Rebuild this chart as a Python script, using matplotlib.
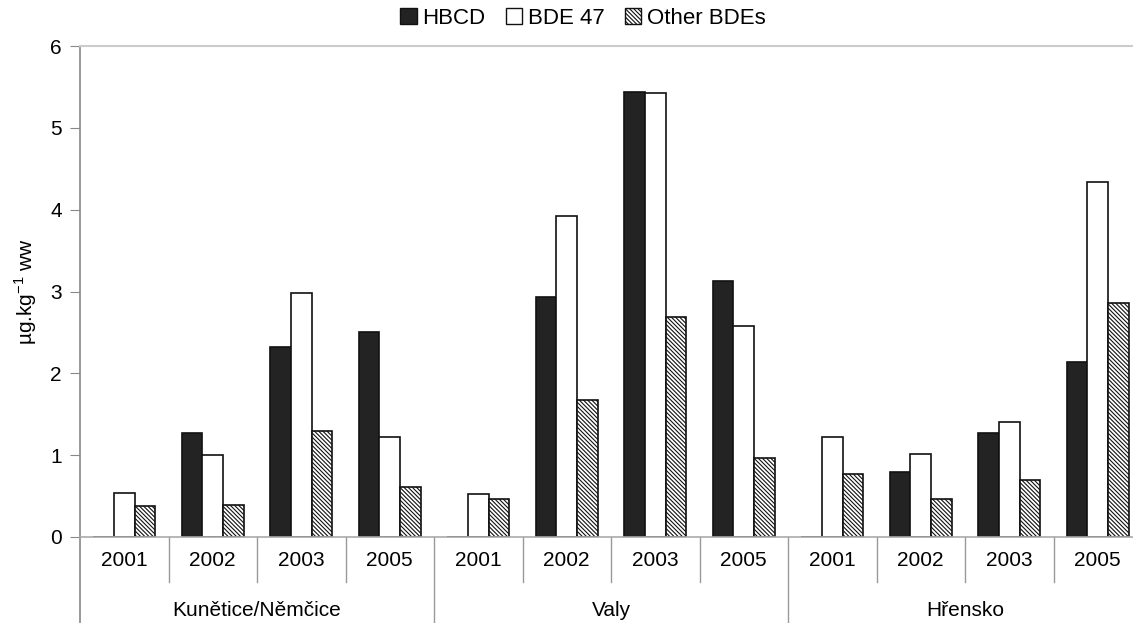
import numpy as np
import matplotlib.pyplot as plt
from matplotlib.patches import Patch

plt.rcParams['font.family'] = ['Liberation Sans', 'DejaVu Sans']
plt.rcParams['hatch.linewidth'] = 0.8

# sites and sampling years
sites = ["Kunětice/Němčice", "Valy", "Hřensko"]
years = ["2001", "2002", "2003", "2005"]

# concentrations, ug/kg wet weight, one value per site/year
hbcd = [0, 1.27, 2.32, 2.50,
        0, 2.93, 5.44, 3.13,
        0, 0.80, 1.27, 2.14]
bde47 = [0.54, 1.00, 2.98, 1.22,
         0.53, 3.92, 5.42, 2.58,
         1.22, 1.01, 1.40, 4.34]
other_bdes = [0.38, 0.39, 1.30, 0.61,
              0.46, 1.67, 2.69, 0.97,
              0.77, 0.46, 0.70, 2.86]

HATCH = '\\' * 8

W, H = 1133, 623
fig = plt.figure(figsize=(W / 100, H / 100), dpi=100)
ax = fig.add_axes([80 / W, 86 / H, 1062 / W, 491 / H])

x = np.arange(len(hbcd))
bw = 0.232
ax.bar(x - bw, hbcd, bw, color='#232323', edgecolor='#111111', linewidth=1.2)
ax.bar(x, bde47, bw, color='white', edgecolor='#111111', linewidth=1.2)
ax.bar(x + bw, other_bdes, bw, color='white', edgecolor='#111111',
       linewidth=1.2, hatch=HATCH)

ax.set_xlim(-0.5, len(hbcd) - 0.5)
ax.set_ylim(0, 6)
ax.set_yticks(range(7))
ax.tick_params(axis='y', labelsize=15, length=7, color='#888888', pad=6)
ax.set_xticks([])
ax.set_ylabel(r'µg.kg$^{\mathregular{-1}}$ ww', fontsize=15, labelpad=8)

ax.spines['right'].set_visible(False)
ax.spines['top'].set_color('#cccccc')
ax.spines['top'].set_linewidth(1.5)
ax.spines['bottom'].set_color('#aaaaaa')
ax.spines['bottom'].set_linewidth(1.2)
ax.spines['left'].set_color('#888888')
ax.spines['left'].set_linewidth(1.2)

# two-level category axis: years, then site groups
trans = ax.get_xaxis_transform()
px = 1 / 491
ax.plot([-0.5, -0.5], [0, -0.2], transform=trans, color='#888888',
        lw=1.2, clip_on=False)
for i in range(1, len(hbcd)):
    bottom = -0.2 if i % 4 == 0 else -45 * px
    ax.plot([i - 0.5, i - 0.5], [0, bottom], transform=trans,
            color='#999999', lw=1, clip_on=False)
for i in range(len(hbcd)):
    ax.text(i, -24 * px, years[i % 4], transform=trans, ha='center',
            va='center', fontsize=15)
for g, name in enumerate(sites):
    ax.text(g * 4 + 1.5, -74 * px, name, transform=trans, ha='center',
            va='center', fontsize=15)

handles = [Patch(facecolor='#232323', edgecolor='#111111', label='HBCD'),
           Patch(facecolor='white', edgecolor='#111111', label='BDE 47'),
           Patch(facecolor='white', edgecolor='#111111', hatch=HATCH,
                 label='Other BDEs')]
fig.legend(handles=handles, loc='center', bbox_to_anchor=(583 / W, 1 - 18 / H),
           ncol=3, frameon=False, fontsize=16, handlelength=0.75,
           handleheight=0.75, handletextpad=0.25, columnspacing=0.9)

fig.savefig('out.png', dpi=100)
